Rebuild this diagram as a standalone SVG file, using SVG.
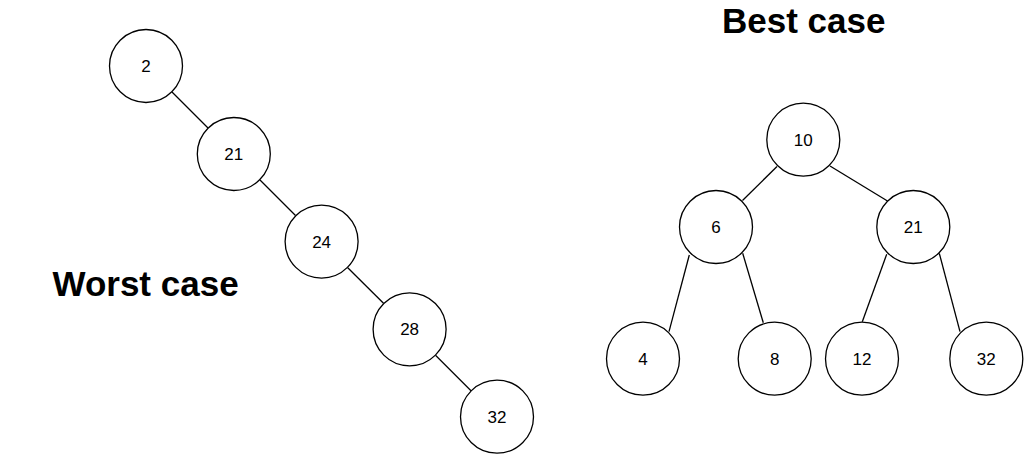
<svg xmlns="http://www.w3.org/2000/svg" width="1024" height="455" viewBox="0 0 1024 455">
<style>
.n{fill:#fff;stroke:#000;stroke-width:1.3}
.t{font-family:"Liberation Sans",Arial,sans-serif;font-size:17px;text-anchor:middle;fill:#000}
.h{font-family:"Liberation Sans",Arial,sans-serif;font-size:35px;font-weight:bold;fill:#000}
.e{stroke:#000;stroke-width:1.3;fill:none}
</style>
<rect width="1024" height="455" fill="#fff"/>
<g id="connectors">
<line class="e" x1="172" y1="92" x2="208" y2="128"/>
<line class="e" x1="260" y1="180" x2="295.5" y2="215.5"/>
<line class="e" x1="347.5" y1="267.5" x2="383.5" y2="303.3"/>
<line class="e" x1="435.5" y1="355.3" x2="471" y2="390.7"/>
<line class="e" x1="777" y1="166.5" x2="742.5" y2="200.5"/>
<line class="e" x1="830" y1="166" x2="887.5" y2="201"/>
<line class="e" x1="689.3" y1="255" x2="669" y2="331.7"/>
<line class="e" x1="742.7" y1="253.3" x2="763.3" y2="322.7"/>
<line class="e" x1="886.7" y1="254.3" x2="862.3" y2="321.7"/>
<line class="e" x1="939.3" y1="253.3" x2="960" y2="331.7"/>
</g>
<g id="worst-2"><circle class="n" cx="146" cy="66" r="36.5"/><text class="t" x="146" y="72">2</text></g>
<g id="worst-21"><circle class="n" cx="233.8" cy="154" r="36.5"/><text class="t" x="233.8" y="160">21</text></g>
<g id="worst-24"><circle class="n" cx="321.6" cy="241.6" r="36.5"/><text class="t" x="321.6" y="247.6">24</text></g>
<g id="worst-28"><circle class="n" cx="409.6" cy="329.3" r="36.5"/><text class="t" x="409.6" y="335.3">28</text></g>
<g id="worst-32"><circle class="n" cx="497" cy="416.7" r="36.5"/><text class="t" x="497" y="422.7">32</text></g>
<g id="best-10"><circle class="n" cx="803.3" cy="139.7" r="36.5"/><text class="t" x="803.3" y="145.7">10</text></g>
<g id="best-6"><circle class="n" cx="716" cy="227" r="36.5"/><text class="t" x="716" y="233">6</text></g>
<g id="best-21"><circle class="n" cx="913.3" cy="227" r="36.5"/><text class="t" x="913.3" y="233">21</text></g>
<g id="best-4"><circle class="n" cx="643" cy="358.7" r="36.5"/><text class="t" x="643" y="364.7">4</text></g>
<g id="best-8"><circle class="n" cx="774.7" cy="358.7" r="36.5"/><text class="t" x="774.7" y="364.7">8</text></g>
<g id="best-12"><circle class="n" cx="862" cy="358.7" r="36.5"/><text class="t" x="862" y="364.7">12</text></g>
<g id="best-32"><circle class="n" cx="986.3" cy="358.7" r="36.5"/><text class="t" x="986.3" y="364.7">32</text></g>
<g id="title-worst"><text class="h" x="52.5" y="296">Worst case</text></g>
<g id="title-best"><text class="h" x="722" y="33">Best case</text></g>
</svg>
